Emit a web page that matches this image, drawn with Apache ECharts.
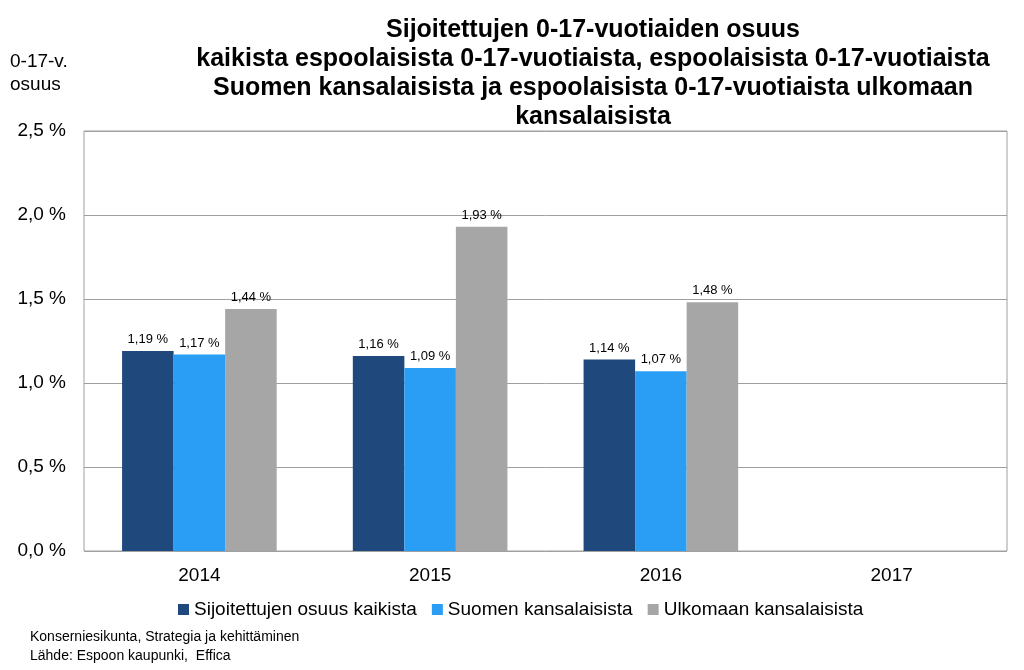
<!DOCTYPE html>
<html><head><meta charset="utf-8">
<script src="https://cdn.jsdelivr.net/npm/echarts@6/dist/echarts.min.js"></script>
<style>html,body{margin:0;padding:0;background:#fff}#c{width:1024px;height:670px}</style>
</head><body><div id="c"></div>
<script>
const categories = ['2014', '2015', '2016', '2017'];
const seriesNames = ['Sijoitettujen osuus kaikista', 'Suomen kansalaisista', 'Ulkomaan kansalaisista'];
const kaikista = [1.19, 1.16, 1.14, null];
const suomen = [1.17, 1.09, 1.07, null];
const ulkomaan = [1.44, 1.93, 1.48, null];
const colors = ['#1F497D', '#2A9DF4', '#A6A6A6'];
const titleText = 'Sijoitettujen 0-17-vuotiaiden osuus\nkaikista espoolaisista 0-17-vuotiaista, espoolaisista 0-17-vuotiaista\nSuomen kansalaisista ja espoolaisista 0-17-vuotiaista ulkomaan\nkansalaisista';
const yName = '0-17-v.\nosuus';
const footer = 'Konserniesikunta, Strategia ja kehittäminen\nLähde: Espoon kaupunki,  Effica';

const fmt = v => v.toFixed(2).replace('.', ',') + ' %';
const chart = echarts.init(document.getElementById('c'));
const values = [kaikista, suomen, ulkomaan];
chart.setOption({
  animation: false,
  textStyle: { fontFamily: 'Liberation Sans, Arial, sans-serif' },
  title: {
    text: titleText, left: 588, top: 11, textAlign: 'center',
    textStyle: { fontFamily: 'Liberation Sans, Arial, sans-serif', fontWeight: 'bold', fontSize: 25, lineHeight: 29, color: '#000' }
  },
  graphic: [
    { type: 'text', left: 10, top: 50, style: { text: yName, font: '19px Liberation Sans, Arial, sans-serif', fill: '#000', lineHeight: 23 } },
    { type: 'text', left: 30, top: 628, style: { text: footer, font: '14px Liberation Sans, Arial, sans-serif', fill: '#000', lineHeight: 19 } }
  ],
  legend: {
    bottom: 46, left: 173, itemWidth: 11, itemHeight: 11, itemGap: 15, icon: 'rect',
    textStyle: { fontSize: 19, color: '#000' },
    data: seriesNames
  },
  grid: { left: 84, right: 17, top: 131, bottom: 119, show: true, borderColor: '#A0A0A0', borderWidth: 1 },
  xAxis: {
    type: 'category', data: categories,
    axisLine: { show: false }, axisTick: { show: false },
    axisLabel: { fontSize: 19, color: '#000', margin: 15 }
  },
  yAxis: {
    type: 'value', min: 0, max: 2.5, interval: 0.5,
    axisLine: { show: false }, axisTick: { show: false },
    axisLabel: { fontSize: 19, color: '#000', margin: 18, formatter: v => v.toFixed(1).replace('.', ',') + ' %' },
    splitLine: { lineStyle: { color: '#A0A0A0' } }
  },
  series: seriesNames.map((n, i) => ({
    name: n, type: 'bar', data: values[i], barGap: '0%', barCategoryGap: '33%',
    itemStyle: { color: colors[i] },
    label: { show: true, position: 'top', fontSize: 13, color: '#000', distance: 5, formatter: p => p.value == null ? '' : fmt(p.value) }
  }))
});
</script></body></html>
